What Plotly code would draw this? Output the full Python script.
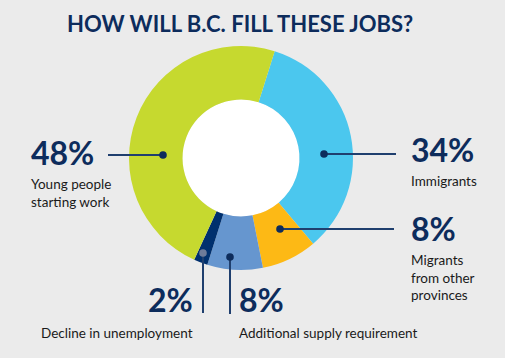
import plotly.graph_objects as go

# ---- data ----
categories = ["Immigrants", "Migrants from other provinces", "Additional supply requirement",
              "Decline in unemployment", "Young people starting work"]
shares = [34, 8, 8, 2, 48]
colors = ["#4BC7EE", "#FDB915", "#6696CF", "#00306E", "#C6D92F"]
pct_labels = ["34%", "8%", "8%", "2%", "48%"]
desc_labels = ["Immigrants", "Migrants<br>from other<br>provinces", "Additional supply requirement",
               "Decline in unemployment", "Young people<br>starting work"]

W, H = 505, 358
BG = "#EBEBEB"
NAVY = "#0D2C5C"
LINE = "#1F3F6E"
TXT = "#1A1A1A"
FONT = "Lato"
cx, cy, R, r_in = 241, 158, 112, 58.5

fig = go.Figure()
fig.add_trace(go.Pie(
    values=shares, labels=categories, sort=False, direction="clockwise",
    rotation=17.5, hole=r_in / R,
    marker=dict(colors=colors, line=dict(width=0)),
    textinfo="none", hoverinfo="label+percent", showlegend=False,
    domain=dict(x=[(cx - R) / W, (cx + R) / W], y=[(H - cy - R) / H, (H - cy + R) / H]),
))

# invisible trace to set up pixel axes
fig.add_trace(go.Scatter(x=[0, W], y=[0, H], mode="markers", marker=dict(opacity=0),
                         hoverinfo="skip", showlegend=False))

shapes = []
# white hole
shapes.append(dict(type="circle", xref="x", yref="y", x0=cx - r_in, x1=cx + r_in,
                   y0=cy - r_in, y1=cy + r_in, fillcolor="white", line=dict(width=0), layer="below"))

# leader lines: (dot x, dot y, end x, end y, dot color)
leaders = [
    (324, 154, 396, 154, NAVY),   # immigrants
    (280, 229, 394, 229, NAVY),   # migrants
    (230, 257, 230, 314, NAVY),   # additional supply
    (203, 253, 203, 313, "#6E7B99"),  # decline
    (163, 155, 108, 155, NAVY),   # young people
]
for dx, dy, ex, ey, dc in leaders:
    shapes.append(dict(type="line", xref="x", yref="y", x0=dx, y0=dy, x1=ex, y1=ey,
                       line=dict(color=LINE, width=2), layer="above"))
for dx, dy, ex, ey, dc in leaders:
    rr = 3.8
    shapes.append(dict(type="circle", xref="x", yref="y", x0=dx - rr, x1=dx + rr,
                       y0=dy - rr, y1=dy + rr, fillcolor=dc, line=dict(width=0), layer="above"))

ann = []
PSIZE = 32
LSIZE = 13.5
# (x, anchor, pct box bottom, description box top)
groups = {
    0: (409, "left", 170.5, 170.5),
    1: (409, "left", 250, 250),
    4: (29, "left", 173.5, 173.5),
    3: (195, "right", 321, 323),
    2: (237, "left", 321, 323),
}
for i, (x, anc, pb, lt) in groups.items():
    ann.append(dict(x=x, y=pb, xref="x", yref="y", text=f"<b>{pct_labels[i]}</b>", showarrow=False,
                    xanchor=anc, yanchor="bottom",
                    font=dict(family=FONT, size=PSIZE, color=NAVY, weight=900)))
    ann.append(dict(x=x, y=lt, xref="x", yref="y", text=desc_labels[i], showarrow=False,
                    xanchor=anc, yanchor="top", align=anc,
                    font=dict(family=FONT, size=LSIZE, color=TXT)))

ann.append(dict(x=240, y=23, xref="x", yref="y", text="<b>HOW WILL B.C. FILL THESE JOBS?</b>",
                showarrow=False, xanchor="center", yanchor="middle",
                font=dict(family=FONT, size=22, color=NAVY, weight=900)))

fig.update_layout(
    width=W, height=H, margin=dict(l=0, r=0, t=0, b=0),
    paper_bgcolor=BG, plot_bgcolor=BG,
    xaxis=dict(range=[0, W], visible=False, fixedrange=True),
    yaxis=dict(range=[H, 0], visible=False, fixedrange=True),
    shapes=shapes, annotations=ann, showlegend=False,
)
fig.write_html("out.html", config={"displayModeBar": False},
               post_script="document.body.style.margin='0';document.body.style.padding='0';"
                           "document.body.style.background='#EBEBEB';")
